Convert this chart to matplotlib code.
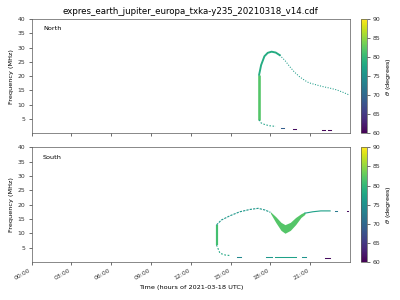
import matplotlib
matplotlib.use('Agg')
import matplotlib.pyplot as plt
from matplotlib import cm
from matplotlib.colors import Normalize

# hour labels
tick_hours = [0, 3, 6, 9, 12, 15, 18, 21]
tick_labels = ['00:00', '03:00', '06:00', '09:00', '12:00', '15:00', '18:00', '21:00']

# North hemisphere: main arc (hours, MHz) and emission angle theta
n_vert_h = [17.15, 17.15]
n_vert_f = [4.7, 20.5]
n_vert_th = 82.0
n_arc_h = [17.15, 17.3, 17.55, 17.8, 18.09, 18.4, 18.7]
n_arc_f = [20.5, 23.9, 27.0, 28.2, 28.6, 28.3, 27.4]
n_arc_th = 78.5
n_tail_h = [18.7, 19.1, 19.47, 19.8, 20.2, 20.6, 20.9, 21.5, 22.0, 22.5, 23.0, 23.5, 23.95]
n_tail_f = [27.4, 25.5, 23.3, 21.5, 19.8, 18.5, 17.7, 16.9, 16.3, 15.8, 15.2, 14.3, 13.4]
n_tail_th = 76.5
n_low_h = [17.15, 17.3, 17.6, 17.95, 18.4]
n_low_f = [4.7, 3.6, 3.0, 2.6, 2.4]
n_low_th = 77.0
n_spots_h = [18.9, 19.8, 22.0, 22.45]
n_spots_f = [1.9, 1.4, 1.05, 1.05]
n_spots_th = [69.0, 61.0, 60.5, 60.5]

# South hemisphere
s_vert_h = [13.94, 13.94]
s_vert_f = [5.9, 12.9]
s_vert_th = 81.0
s_up_h = [13.94, 14.3, 14.95, 15.7, 16.45, 17.08, 17.6, 18.0]
s_up_f = [12.9, 14.6, 16.1, 17.5, 18.3, 18.7, 18.1, 17.3]
s_up_th = 76.0
s_v_h = [18.0, 18.4, 18.8, 19.1, 19.5, 19.9, 20.3, 20.6]
s_v_top = [17.5, 15.8, 13.8, 13.0, 13.8, 15.5, 16.8, 17.5]
s_v_bot = [17.0, 13.8, 11.0, 10.0, 11.0, 13.0, 15.5, 16.6]
s_v_th = 82.0
s_right_h = [20.6, 21.2, 21.8, 22.5]
s_right_f = [17.0, 17.5, 17.8, 17.8]
s_right_th = 77.0
s_low_h = [13.94, 14.2, 14.6, 15.0]
s_low_f = [5.9, 3.0, 2.4, 2.2]
s_low_th = 78.0
s_dash = [(15.5, 15.75, 1.7, 74.0), (17.7, 18.1, 1.6, 76.0), (18.35, 19.9, 1.65, 77.0),
          (20.4, 20.65, 1.6, 75.5), (22.1, 22.5, 1.3, 61.0),
          (22.85, 23.0, 17.6, 72.0), (23.75, 23.85, 17.6, 61.0)]

cmap = cm.viridis
norm = Normalize(60, 90)

fig = plt.figure(figsize=(6.4, 4.8), dpi=62.5)
ax1 = fig.add_axes([0.079, 0.556, 0.796, 0.38])
ax2 = fig.add_axes([0.079, 0.127, 0.796, 0.382])
cax1 = fig.add_axes([0.902, 0.556, 0.015, 0.38])
cax2 = fig.add_axes([0.902, 0.127, 0.015, 0.382])

c = lambda th: cmap(norm(th))

ax1.plot(n_vert_h, n_vert_f, color=c(n_vert_th), lw=3, solid_capstyle='butt')
ax1.plot(n_arc_h, n_arc_f, color=c(n_arc_th), lw=2.2)
ax1.plot(n_tail_h, n_tail_f, color=c(n_tail_th), lw=1.2, ls=(0, (1, 1.5)))
ax1.plot(n_low_h, n_low_f, color=c(n_low_th), lw=1.2, ls=(0, (1.5, 1.5)))
for h, f, th in zip(n_spots_h, n_spots_f, n_spots_th):
    ax1.plot([h - 0.12, h + 0.12], [f, f], color=c(th), lw=1.2)

ax2.plot(s_vert_h, s_vert_f, color=c(s_vert_th), lw=2.5, solid_capstyle='butt')
ax2.plot(s_up_h, s_up_f, color=c(s_up_th), lw=1.3, ls=(0, (2, 1)))
ax2.fill_between(s_v_h, s_v_bot, s_v_top, color=c(s_v_th), lw=0)
ax2.plot(s_right_h, s_right_f, color=c(s_right_th), lw=1.3)
ax2.plot(s_low_h, s_low_f, color=c(s_low_th), lw=1.3, ls=(0, (1.5, 1.5)))
for h0, h1, f, th in s_dash:
    ax2.plot([h0, h1], [f, f], color=c(th), lw=1.2)

for ax, name in [(ax1, 'North'), (ax2, 'South')]:
    ax.set_xlim(0, 24)
    ax.set_ylim(0, 40)
    ax.set_yticks([5, 10, 15, 20, 25, 30, 35, 40])
    ax.set_xticks(tick_hours)
    ax.set_ylabel('Frequency (MHz)', fontsize=7.5)
    ax.tick_params(labelsize=7, colors='0.2')
    for s in ax.spines.values():
        s.set_color('0.35')
    ax.text(0.036, 0.915, name, transform=ax.transAxes, fontsize=7.5, va='center')

ax1.set_xticklabels([])
ax2.set_xticklabels(tick_labels, rotation=30, ha='right')
ax2.set_xlabel('Time (hours of 2021-03-18 UTC)', fontsize=7.5)
ax1.set_title('expres_earth_jupiter_europa_txka-y235_20210318_v14.cdf', fontsize=10)

for cax in (cax1, cax2):
    cb = fig.colorbar(cm.ScalarMappable(norm=norm, cmap=cmap), cax=cax)
    cb.set_ticks([60, 65, 70, 75, 80, 85, 90])
    cb.set_label(r'$\theta$ (degrees)', fontsize=7.5)
    cax.tick_params(labelsize=7, colors='0.2')
    cb.outline.set_edgecolor('0.35')

fig.savefig('out.png', dpi=62.5)
